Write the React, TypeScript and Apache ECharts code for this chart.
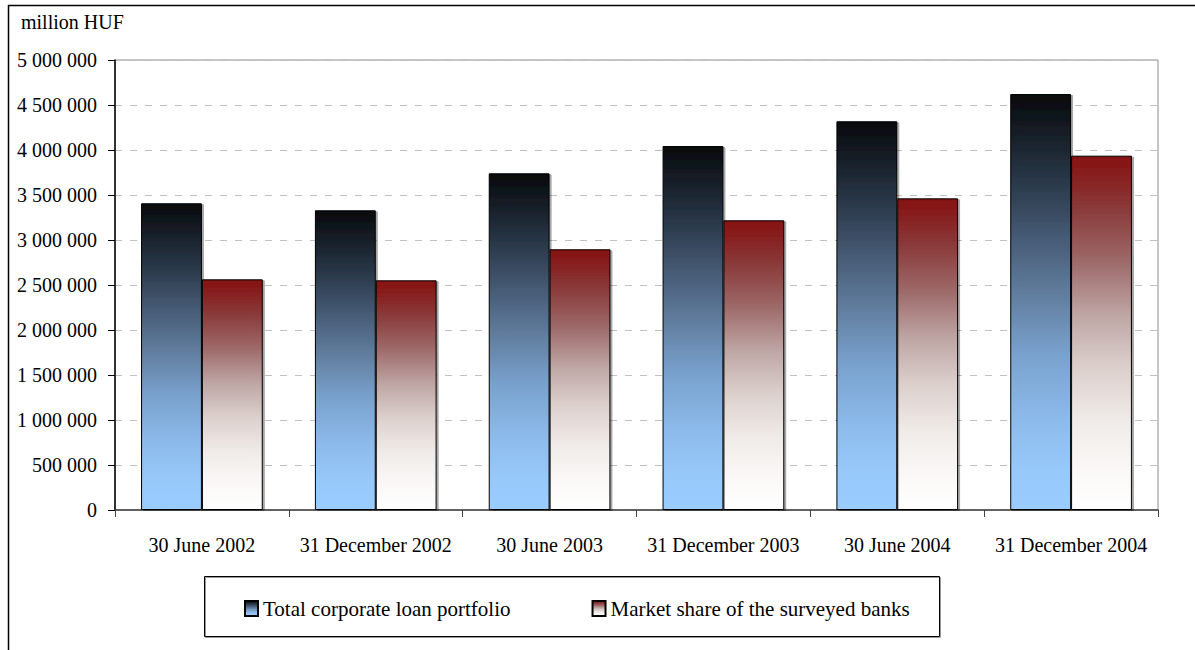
import React, { useEffect, useRef } from "react";
import * as echarts from "echarts";

const categories = [
  "30 June 2002",
  "31 December 2002",
  "30 June 2003",
  "31 December 2003",
  "30 June 2004",
  "31 December 2004",
];
const totalPortfolio = [3408000, 3330000, 3741000, 4044000, 4319000, 4622000];
const surveyedShare = [2563000, 2552000, 2897000, 3219000, 3463000, 3937000];
const seriesNames = ["Total corporate loan portfolio", "Market share of the surveyed banks"];
const unitLabel = "million HUF";

const FONT = "'Liberation Serif', 'Times New Roman', serif";

function fmt(v: number): string {
  return String(v).replace(/\B(?=(\d{3})+(?!\d))/g, " ");
}

const blueGrad = new echarts.graphic.LinearGradient(0, 0, 0, 1, [
  { offset: 0, color: "#07090c" },
  { offset: 0.2, color: "#283646" },
  { offset: 0.35, color: "#475c76" },
  { offset: 0.5, color: "#6482a4" },
  { offset: 0.62, color: "#78a0cc" },
  { offset: 0.78, color: "#8cbaea" },
  { offset: 0.9, color: "#97c8fa" },
  { offset: 1, color: "#9accff" },
]);
const redGrad = new echarts.graphic.LinearGradient(0, 0, 0, 1, [
  { offset: 0, color: "#861010" },
  { offset: 0.15, color: "#8a3a3a" },
  { offset: 0.3, color: "#9e6a6a" },
  { offset: 0.45, color: "#bea6a4" },
  { offset: 0.6, color: "#dcd0cd" },
  { offset: 0.75, color: "#f0ebe8" },
  { offset: 0.9, color: "#fbf9f8" },
  { offset: 1, color: "#ffffff" },
]);

export default function App() {
  const ref = useRef<HTMLDivElement>(null);
  useEffect(() => {
    if (!ref.current) return;
    const chart = echarts.init(ref.current, null, { renderer: "svg" });
    const barStyle = {
      borderColor: "#000",
      borderWidth: 1,
      shadowColor: "rgba(0,0,0,0.35)",
      shadowOffsetX: 2,
      shadowOffsetY: 1,
      shadowBlur: 0,
    };
    chart.setOption({
      animation: false,
      backgroundColor: "#ffffff",
      textStyle: { fontFamily: FONT },
      grid: {
        left: 115,
        right: 37,
        top: 60,
        bottom: 140,
        show: true,
        borderColor: "#8c8c8c",
        borderWidth: 1,
        containLabel: false,
      },
      xAxis: {
        type: "category",
        data: categories,
        boundaryGap: true,
        axisLine: { show: true, lineStyle: { color: "#404040", width: 1.5 } },
        axisTick: { show: true, length: 7, inside: false, lineStyle: { color: "#404040" } },
        axisLabel: { margin: 25, fontSize: 20, color: "#000", fontFamily: FONT, interval: 0 },
        splitLine: { show: false },
      },
      yAxis: {
        type: "value",
        min: 0,
        max: 5000000,
        interval: 500000,
        axisLine: { show: true, lineStyle: { color: "#000", width: 1.5 } },
        axisTick: { show: true, length: 7, lineStyle: { color: "#000" } },
        axisLabel: {
          margin: 18,
          fontSize: 20,
          color: "#000",
          fontFamily: FONT,
          formatter: (v: number) => fmt(v),
        },
        splitLine: { show: true, lineStyle: { color: "#c0c0c0", type: [7, 8], width: 1 } },
      },
      legend: {
        show: true,
        left: 244,
        top: 598,
        padding: 0,
        itemWidth: 13,
        itemHeight: 15,
        itemGap: 81,
        itemTextGap: 8,
        icon: "rect",
        textStyle: { fontSize: 21, color: "#000", fontFamily: FONT, lineHeight: 18 },
        data: seriesNames,
      },
      graphic: [
        {
          type: "line",
          shape: { x1: 8, y1: 5.5, x2: 1195, y2: 5.5 },
          style: { stroke: "#000", lineWidth: 1.5 },
          silent: true,
        },
        {
          type: "line",
          shape: { x1: 8.5, y1: 5, x2: 8.5, y2: 650 },
          style: { stroke: "#000", lineWidth: 1.5 },
          silent: true,
        },
        {
          type: "rect",
          shape: { x: 204.5, y: 576.5, width: 735, height: 60 },
          style: { fill: "none", stroke: "#000", lineWidth: 1, shadowColor: "rgba(0,0,0,0.4)", shadowOffsetY: 1, shadowOffsetX: 1 },
          silent: true,
          z: -1,
        },
        {
          type: "text",
          left: 21,
          top: 12,
          style: { text: unitLabel, font: `20px ${FONT}`, fill: "#000" },
          silent: true,
        },
      ],
      series: [
        {
          name: seriesNames[0],
          type: "bar",
          data: totalPortfolio,
          barGap: "0%",
          barCategoryGap: "30%",
          itemStyle: { ...barStyle, color: blueGrad },
        },
        {
          name: seriesNames[1],
          type: "bar",
          data: surveyedShare,
          itemStyle: { ...barStyle, color: redGrad },
        },
      ],
    });
    return () => chart.dispose();
  }, []);
  return (
    <div
      ref={ref}
      style={{ position: "absolute", left: 0, top: 0, width: 1195, height: 650 }}
    />
  );
}
